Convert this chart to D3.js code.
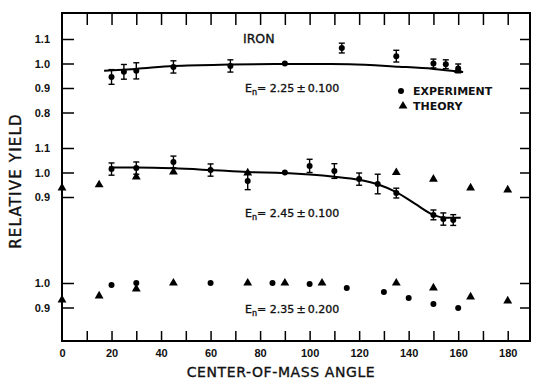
<!DOCTYPE html>
<html>
<head>
<meta charset="utf-8">
<script src="https://cdn.jsdelivr.net/npm/d3@7"></script>
<style>
  html, body { margin: 0; padding: 0; background: #fff; }
  svg { display: block; font-family: "DejaVu Sans", sans-serif; }
  .tick line { stroke: #000; stroke-width: 1.5; }
  .tick text { font-size: 11px; font-weight: bold; fill: #111; }
  .lbl { fill: #111; stroke: #111; stroke-width: 0.35; }
</style>
</head>
<body>
<div id="chart"></div>
<script>
// ---- data (angle in degrees, relative yield) ----
// E_n = 2.25 +/- 0.100 (iron, top panel)
var exp225Angle = [20, 25, 30, 45, 68, 90, 113, 135, 150, 155, 160];
var exp225Yield = [0.945, 0.966, 0.97, 0.986, 0.99, 1.0, 1.063, 1.03, 1.0, 0.997, 0.98];
var exp225Err   = [0.03, 0.03, 0.033, 0.025, 0.025, 0, 0.02, 0.024, 0.018, 0.018, 0.018];
var thy225Angle = [160];
var thy225Yield = [0.973];
var fit225Angle = [17, 30, 45, 68, 90, 116, 136, 150, 162];
var fit225Yield = [0.97, 0.978, 0.99, 0.996, 0.998, 0.997, 0.987, 0.978, 0.965];

// E_n = 2.45 +/- 0.100 (middle panel)
var exp245Angle = [20, 30, 45, 60, 75, 90, 100, 110, 120, 127.5, 135, 150, 154, 158];
var exp245Yield = [1.014, 1.018, 1.043, 1.01, 0.965, 1.0, 1.027, 1.006, 0.973, 0.953, 0.916, 0.827, 0.81, 0.806];
var exp245Err   = [0.025, 0.025, 0.024, 0.025, 0.035, 0, 0.027, 0.03, 0.025, 0.04, 0.02, 0.02, 0.025, 0.022];
var thy245Angle = [0, 15, 30, 45, 75, 135, 150, 165, 180];
var thy245Yield = [0.937, 0.95, 0.982, 1.002, 0.998, 1.0, 0.973, 0.937, 0.929];
var fit245Angle = [19, 30, 45, 60, 75, 90, 100, 110, 120, 128, 135, 142.5, 150, 155, 161];
var fit245Yield = [1.02, 1.02, 1.017, 1.01, 1.002, 0.998, 0.992, 0.983, 0.97, 0.95, 0.92, 0.873, 0.827, 0.815, 0.815];

// E_n = 2.35 +/- 0.200 (bottom panel)
var exp235Angle = [20, 30, 60, 85, 100, 115, 130, 140, 150, 160];
var exp235Yield = [0.992, 1.0, 1.0, 1.0, 0.996, 0.98, 0.963, 0.939, 0.914, 0.898];
var thy235Angle = [0, 15, 30, 45, 75, 90, 105, 135, 150, 165, 180];
var thy235Yield = [0.931, 0.947, 0.976, 1.0, 1.0, 1.0, 1.0, 1.0, 0.98, 0.943, 0.927];

// tick values
var angleTicks  = d3.range(0, 190, 10);
var topTicks    = [0.8, 0.9, 1.0, 1.1];
var midTicks    = [0.9, 1.0, 1.1];
var botTicks    = [0.9, 1.0];

(function(){
  'use strict';

  var width = 533, height = 379;
  var left = 62, right = 530, top = 13, bottom = 341;

  var svg = d3.select('#chart').append('svg')
    .attr('width', width)
    .attr('height', height);

  var x = d3.scaleLinear().domain([0, 189]).range([left, right]);

  // three stacked panels share the same units per pixel, only shifted
  var yTop = d3.scaleLinear().domain([0.8, 1.1]).range([112.5, 39]);
  var yMid = d3.scaleLinear().domain([0.9, 1.1]).range([197, 148]);
  var yBot = d3.scaleLinear().domain([0.9, 1.0]).range([307.5, 283]);

  //axes - inward ticks on all four sides
  function leftAxis(y, ticks) {
    var g = svg.append('g').attr('transform', 'translate(' + left + ',0)')
      .call(d3.axisLeft(y).tickValues(ticks).tickSize(-12).tickPadding(12)
        .tickFormat(d3.format('.1f')));
    g.select('.domain').remove();
  }
  function rightAxis(y, ticks) {
    var g = svg.append('g').attr('transform', 'translate(' + right + ',0)')
      .call(d3.axisRight(y).tickValues(ticks).tickSize(-10).tickFormat(''));
    g.select('.domain').remove();
  }
  leftAxis(yTop, topTicks);  rightAxis(yTop, topTicks);
  leftAxis(yMid, midTicks);  rightAxis(yMid, midTicks);
  leftAxis(yBot, botTicks);  rightAxis(yBot, botTicks);

  var gx = svg.append('g').attr('transform', 'translate(0,' + bottom + ')')
    .call(d3.axisBottom(x).tickValues(angleTicks).tickSize(-10).tickPadding(8)
      .tickFormat(function(d) { return d % 20 === 0 ? d : ''; }));
  gx.select('.domain').remove();
  gx.selectAll('.tick').filter(function(d) { return d === 0; }).select('line').remove();

  var gxt = svg.append('g').attr('transform', 'translate(0,' + top + ')')
    .call(d3.axisTop(x).tickValues(angleTicks.slice(1)).tickSize(-12).tickFormat(''));
  gxt.select('.domain').remove();

  // frame
  svg.append('rect')
    .attr('x', left).attr('y', top)
    .attr('width', right - left).attr('height', bottom - top)
    .attr('fill', 'none').attr('stroke', '#000').attr('stroke-width', 2);

  // axis titles
  svg.append('text').attr('class', 'lbl')
    .attr('x', 281).attr('y', 377)
    .attr('text-anchor', 'middle')
    .attr('font-size', 14).attr('letter-spacing', 0.6)
    .text('CENTER-OF-MASS ANGLE');

  svg.append('text').attr('class', 'lbl')
    .attr('transform', 'translate(21,181) rotate(-90)')
    .attr('text-anchor', 'middle')
    .attr('font-size', 15).attr('letter-spacing', 1.2)
    .text('RELATIVE  YIELD');

  // ---- marks ----
  var tri = d3.symbol().type(d3.symbolTriangle).size(34);

  function fitLine(ang, val, y) {
    var line = d3.line()
      .x(function(d) { return x(d[0]); })
      .y(function(d) { return y(d[1]); })
      .curve(d3.curveMonotoneX);
    svg.append('path')
      .datum(d3.zip(ang, val))
      .attr('d', line)
      .attr('fill', 'none').attr('stroke', '#000').attr('stroke-width', 2);
  }

  function errorBars(ang, val, err, y) {
    var data = d3.zip(ang, val, err).filter(function(d) { return d[2] > 0; });
    var g = svg.append('g').attr('stroke', '#000').attr('stroke-width', 1.4);
    g.selectAll('line.v').data(data).enter().append('line')
      .attr('x1', function(d) { return x(d[0]); })
      .attr('x2', function(d) { return x(d[0]); })
      .attr('y1', function(d) { return y(d[1] - d[2]); })
      .attr('y2', function(d) { return y(d[1] + d[2]); });
    [-1, 1].forEach(function(s) {
      g.selectAll('line.c' + s).data(data).enter().append('line')
        .attr('x1', function(d) { return x(d[0]) - 3; })
        .attr('x2', function(d) { return x(d[0]) + 3; })
        .attr('y1', function(d) { return y(d[1] + s * d[2]); })
        .attr('y2', function(d) { return y(d[1] + s * d[2]); });
    });
  }

  function dots(ang, val, y) {
    svg.append('g').selectAll('circle')
      .data(d3.zip(ang, val)).enter()
      .append('circle')
      .attr('cx', function(d) { return x(d[0]); })
      .attr('cy', function(d) { return y(d[1]); })
      .attr('r', 3)
      .attr('fill', '#000');
  }

  function triangles(ang, val, y) {
    svg.append('g').selectAll('path')
      .data(d3.zip(ang, val)).enter()
      .append('path')
      .attr('d', tri)
      .attr('transform', function(d) { return 'translate(' + x(d[0]) + ',' + y(d[1]) + ')'; })
      .attr('fill', '#000');
  }

  fitLine(fit225Angle, fit225Yield, yTop);
  errorBars(exp225Angle, exp225Yield, exp225Err, yTop);
  dots(exp225Angle, exp225Yield, yTop);
  triangles(thy225Angle, thy225Yield, yTop);

  fitLine(fit245Angle, fit245Yield, yMid);
  errorBars(exp245Angle, exp245Yield, exp245Err, yMid);
  dots(exp245Angle, exp245Yield, yMid);
  triangles(thy245Angle, thy245Yield, yMid);

  dots(exp235Angle, exp235Yield, yBot);
  triangles(thy235Angle, thy235Yield, yBot);

  // ---- labels ----
  svg.append('text').attr('class', 'lbl')
    .attr('x', 243).attr('y', 43)
    .attr('font-size', 12.5)
    .text('IRON');

  function energyLabel(yPos, txt) {
    var t = svg.append('text').attr('class', 'lbl')
      .attr('x', 245).attr('y', yPos)
      .attr('font-size', 11);
    t.append('tspan').text('E');
    t.append('tspan').attr('dy', 3).attr('font-size', 8).text('n');
    t.append('tspan').attr('dy', -3).text('= ' + txt);
  }
  energyLabel(92, '2.25\u2009\u00b1\u20090.100');
  energyLabel(217, '2.45\u2009\u00b1\u20090.100');
  energyLabel(313, '2.35\u2009\u00b1\u20090.200');

  // legend
  svg.append('circle').attr('cx', 401).attr('cy', 91).attr('r', 3).attr('fill', '#000');
  svg.append('path').attr('d', tri).attr('transform', 'translate(403,106)').attr('fill', '#000');
  svg.append('text').attr('x', 413).attr('y', 95)
    .attr('font-size', 11).attr('font-weight', 'bold').attr('fill', '#111')
    .text('EXPERIMENT');
  svg.append('text').attr('x', 413).attr('y', 110)
    .attr('font-size', 11).attr('font-weight', 'bold').attr('fill', '#111')
    .text('THEORY');

})();
</script>
</body>
</html>
